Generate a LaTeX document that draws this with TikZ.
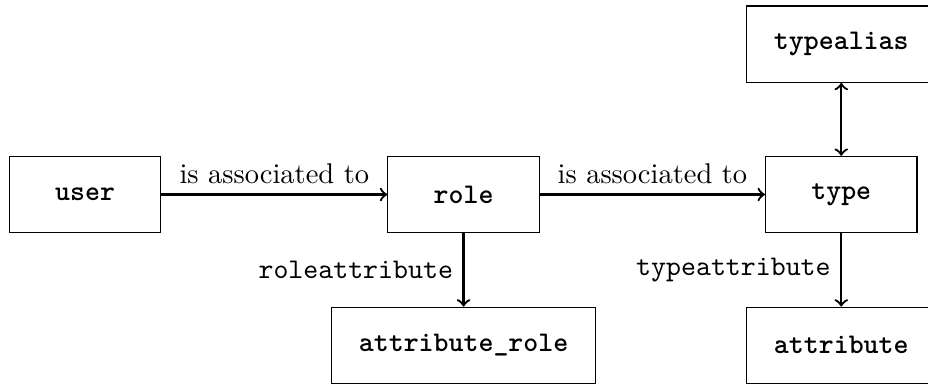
\documentclass[tikz,border=0pt]{standalone}
\usepackage{amsmath}
\usepackage{tikz}
\tikzstyle{table}=[rectangle, draw, thin, minimum width=1.87cm, minimum height=0.94cm, inner xsep=9.5pt, font=\ttfamily\bfseries]
\tikzstyle{link}=[->, thick]

\begin{document}
\begin{tikzpicture}[x=1cm, y=1cm]
                    \useasboundingbox (-1.05, -2.345) rectangle (10.4, 2.4);
                    \node[table] (user)      at (0, 0)         {user};
                    \node[table] (role)      at (4.67, 0)      {role};
                    \node[table] (type)      at (9.33, 0)      {type};
                    \node[table] (typealias) at (9.33, 1.855)  {typealias};
                    \node[table] (attrrole)  at (4.67, -1.86)  {attribute\_role};
                    \node[table] (attribute) at (9.33, -1.86)  {attribute};
                    \draw[link]  (user)--(role) node[midway, above] {is associated to};
                    \draw[link]  (role)--(type) node[midway, above] {is associated to};
                    \draw[link]  (role)--(attrrole) node[midway, left] {\ttfamily roleattribute};
                    \draw[link]  (type)--(attribute) node[midway, left] {\ttfamily typeattribute};
                    \draw[link, <->]  (typealias)--(type);
                \end{tikzpicture}
\end{document}
